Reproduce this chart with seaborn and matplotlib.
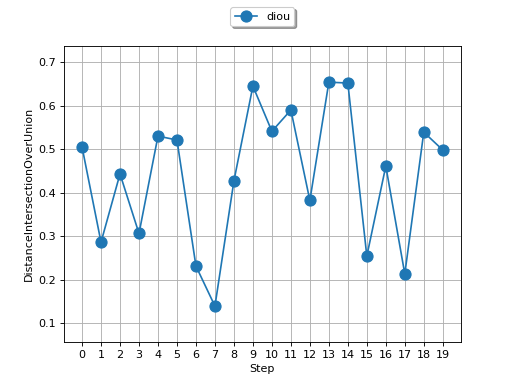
import matplotlib
matplotlib.use('Agg')
import matplotlib.pyplot as plt
import seaborn as sns
import pandas as pd

# Data
steps = list(range(20))
diou = [0.505, 0.286, 0.443, 0.306, 0.530, 0.521, 0.231, 0.139, 0.427, 0.645,
        0.541, 0.590, 0.382, 0.654, 0.652, 0.254, 0.461, 0.213, 0.539, 0.498]

df = pd.DataFrame({"Step": steps, "diou": diou})

# fig
fig, ax = plt.subplots(figsize=(6.4, 4.8), dpi=80)

sns.lineplot(data=df, x="Step", y="diou", marker="o", markersize=10,
             markeredgewidth=1, markeredgecolor="#1f77b4", color="#1f77b4",
             label="diou", ax=ax)

ax.set_xticks(steps)
ax.set_ylim(0.057, 0.737)
ax.set_xlabel("Step")
ax.set_ylabel("DistanceIntersectionOverUnion")
ax.grid(True)

ax.legend(loc="upper center", bbox_to_anchor=(0.5, 1.15), shadow=True)

plt.savefig("out.png", dpi=80)
